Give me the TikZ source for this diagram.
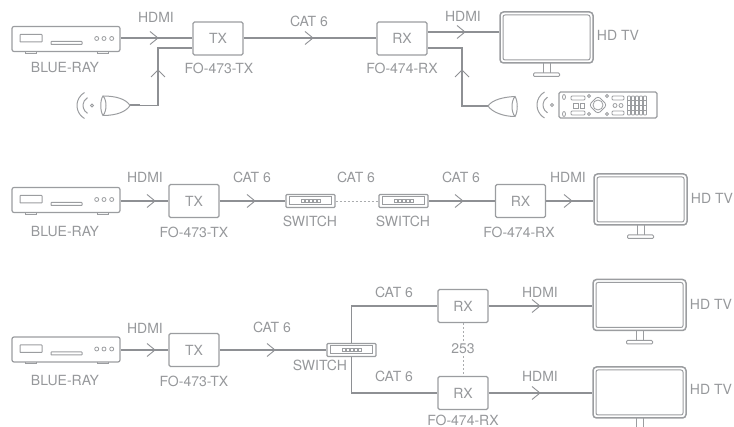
\documentclass[tikz,border=0pt]{standalone}
\usepackage{fontspec}
\setmainfont{TeX Gyre Heros}
\usetikzlibrary{positioning,calc}
\definecolor{wiregray}{HTML}{8E9094}
\definecolor{boxgray}{HTML}{9B9DA0}
\definecolor{txtgray}{HTML}{96989B}
\tikzset{wire/.style={draw=wiregray,line width=2pt}}
\tikzset{thinwire/.style={draw=wiregray,line width=1.05pt}}
\tikzset{dotwire/.style={draw=boxgray!85,line width=0.8pt,dash pattern=on 2pt off 2pt}}
\tikzset{chev/.style={draw=wiregray,line width=0.9pt}}
\tikzset{txt/.style={text=txtgray,font=\fontsize{14}{15}\selectfont,inner sep=0pt}}
\tikzset{boxtxt/.style={draw=boxgray,line width=1.2pt,rounded corners=1.5pt,minimum width=50pt,minimum height=33pt,inner sep=0pt,text=txtgray,font=\fontsize{14}{15}\selectfont}}
\tikzset{player/.style={draw=boxgray,line width=1.2pt,rounded corners=2pt,minimum width=108pt,minimum height=25pt,inner sep=0pt}}
\tikzset{telly/.style={draw=boxgray,line width=1.5pt,rounded corners=3.5pt,minimum width=93pt,minimum height=51pt,inner sep=0pt}}
\tikzset{hub/.style={draw=boxgray,line width=1.4pt,rounded corners=1pt,minimum width=49pt,minimum height=13pt,inner sep=0pt}}
\tikzset{part/.style={draw=boxgray,line width=1pt}}
\tikzset{fine/.style={draw=boxgray,line width=0.8pt}}
% chevrons, tip at the given coordinate
\def\chevr#1{\draw[chev] ($(#1)+(-8,-6.5)$) -- (#1) -- ($(#1)+(-8,6.5)$);}
\def\chevu#1{\draw[chev] ($(#1)+(-7,7)$) -- (#1) -- ($(#1)+(7,7)$);}
% inside of the devices
\def\playerparts#1{
  \begin{scope}[shift={(#1.center)}]
    \draw[part,rounded corners=0.5pt] (-46,-4.5) rectangle (-24,3);
    \draw[part,rounded corners=0.5pt] (-15,2.5) rectangle (16,5.5);
    \draw[fine] (30.7,-0.5) circle (2) (38,-0.5) circle (2) (45.7,-0.5) circle (2);
    \draw[part] (-41,12.5) -- (-41,14.5) -- (-30,14.5) -- (-30,12.5);
    \draw[part] (31,12.5) -- (31,14.5) -- (42,14.5) -- (42,12.5);
  \end{scope}
}
\def\tellyparts#1{
  \begin{scope}[shift={(#1.center)}]
    \draw[part,rounded corners=2pt] (-43.5,-22.5) rectangle (43.5,22.5);
    \draw[part] (-3.5,25.5) -- (-3.5,35.5) (3.5,25.5) -- (3.5,35.5);
    \draw[part,rounded corners=1pt] (-13,35.5) rectangle (13,39);
  \end{scope}
}
\def\hubparts#1{
  \begin{scope}[shift={(#1.center)}]
    \draw[part] (-21,-4) rectangle (21,4);
    \foreach \k in {-8,-4,0,4,8}
      \draw[draw=boxgray,line width=0.6pt] (\k-1.3,-1.3) rectangle (\k+1.3,1.3);
  \end{scope}
}
% sender waves, the dot at the given coordinate
\def\irwaves#1{
  \begin{scope}[shift={(#1)}]
    \draw[part] (0,0) circle (1.5);
    \draw[part] (120:9) arc (120:240:9);
    \draw[part] (120:15) arc (120:240:15);
  \end{scope}
}

\begin{document}
\begin{tikzpicture}[x=1pt,y=-1pt]
\useasboundingbox (0,0) rectangle (734,427);

% first row
\node[player] (pa) at (66,39) {};
\node[boxtxt] (txa) at (218,38.5) {TX};
\node[boxtxt] (rxa) at (402,38.5) {RX};
\node[telly] (tva) at (546.5,37.5) {};
\playerparts{pa}
\tellyparts{tva}

\node[txt] (pala) at (65,68) {BLUE-RAY};
\node[txt] (txla) at (219,68) {FO-473-TX};
\node[txt] (rxla) at (402,68) {FO-474-RX};
\node[txt] (hdma) at (156,17) {HDMI};
\node[txt] (cata) at (309,21) {CAT 6};
\node[txt] (hdmb) at (463,16) {HDMI};
\node[txt] (tvla) at (618,35) {HD TV};

\draw[wire] (pa.east |- 0,38) -- (txa.west |- 0,38);
\draw[wire] (txa.east |- 0,38) -- (rxa.west |- 0,38);
\draw[wire] (rxa.east |- 0,32) -- (tva.west |- 0,32);
\coordinate (ca) at (158,38);
\coordinate (cb) at (313,38);
\coordinate (cc) at (465,32);
\chevr{ca} \chevr{cb} \chevr{cc}

% left sender
\coordinate (bla) at (130,105.5);
\coordinate (blb) at (140,105.5);
\coordinate (cornl) at (158,105.5);
\coordinate (cornm) at (158,48);
\draw[thinwire] (blb) -- (cornl) -- (cornm) -- (txa.west |- cornm);
\draw[wire] (bla) -- (blb);
\draw[part] (bla) .. controls (126,99) and (116,96) .. (103,96) .. controls (100,100) and (100,111) .. (103,115.5) .. controls (116,115.5) and (126,112) .. (bla);
\draw[part] (103,96) .. controls (107,100) and (107,111) .. (103,115.5);
\coordinate (cd) at (158,70);
\chevu{cd}
\coordinate (wva) at (92,105.5);
\irwaves{wva}

% right sender and remote
\coordinate (bra) at (488,106);
\coordinate (brb) at (480,106);
\coordinate (cornr) at (462,106);
\coordinate (corns) at (462,48);
\draw[thinwire] (brb) -- (cornr) -- (corns) -- (rxa.east |- corns);
\draw[wire] (bra) -- (brb);
\draw[part] (bra) .. controls (492,100) and (503,97) .. (515,96.5) .. controls (518,101) and (518,112) .. (515,116.5) .. controls (503,116.5) and (492,112) .. (bra);
\draw[part] (515,96.5) .. controls (511,101) and (511,112) .. (515,116.5);
\coordinate (ce) at (462,70);
\chevu{ce}
\coordinate (wvb) at (552,105);
\irwaves{wvb}

\node[draw=boxgray,line width=1.2pt,rounded corners=1.5pt,minimum width=98pt,minimum height=26pt,inner sep=0pt] (rem) at (608,105) {};
\begin{scope}[shift={(rem.center)}]
  \draw[fine] (-44,-8) ellipse (1.5 and 2.5) (-44,9) ellipse (1.5 and 2.5);
  \draw[fine,rounded corners=1pt] (-37,-9) rectangle (-23,-5) (-37,6) rectangle (-23,10);
  \draw[fine] (-35,-2) rectangle (-30,3) (-28,-2) rectangle (-24,3);
  \draw[fine] (-10,0) circle (5);
  \draw[fine,rounded corners=3pt] (-19,0) -- (-10,-9) -- (-1,0) -- (-10,9) -- cycle;
  \draw[fine] (-19,-9) circle (1.5) (-1,-9) circle (1.5) (-19,9) circle (1.5) (-1,9) circle (1.5);
  \draw[fine,rounded corners=1pt] (4,-9) rectangle (16,-5) (4,6) rectangle (16,10);
  \draw[fine] (7,0.5) circle (2) (13,0.5) circle (2);
  \foreach \k in {21,25,29,33,37}
    \draw[fine,rounded corners=0.8pt] (\k-1.5,-9) rectangle (\k+1.5,10);
  \foreach \k in {-4.5,0,5}
    \draw[draw=boxgray,line width=0.6pt] (19.5,\k) -- (38.5,\k);
\end{scope}

% second row
\node[player] (pb) at (66,200) {};
\node[boxtxt] (txb) at (194,201) {TX};
\node[hub] (sa) at (310.5,201) {};
\node[hub] (sb) at (403.5,201) {};
\node[boxtxt] (rxb) at (520.5,201) {RX};
\node[telly] (tvb) at (640.5,199.5) {};
\playerparts{pb}
\hubparts{sa}
\hubparts{sb}
\tellyparts{tvb}

\node[txt] (palb) at (65,232) {BLUE-RAY};
\node[txt] (txlb) at (194,232) {FO-473-TX};
\node[txt] (sla) at (310,221) {SWITCH};
\node[txt] (slb) at (403,221) {SWITCH};
\node[txt] (rxlb) at (519,232) {FO-474-RX};
\node[txt] (hdmc) at (145,177) {HDMI};
\node[txt] (catb) at (252,177) {CAT 6};
\node[txt] (catc) at (356,177) {CAT 6};
\node[txt] (catd) at (461,177) {CAT 6};
\node[txt] (hdmd) at (568,177) {HDMI};
\node[txt] (tvlb) at (712,198) {HD TV};

\draw[wire] (pb.east |- txb.west) -- (txb.west);
\draw[wire] (txb.east) -- (sa.west);
\draw[dotwire] (sa.east) -- (sb.west);
\draw[wire] (sb.east) -- (rxb.west);
\draw[wire] (rxb.east) -- (tvb.west |- rxb.east);
\coordinate (cf) at (155,201);
\coordinate (cg) at (255,201);
\coordinate (ch) at (463,201);
\coordinate (ci) at (572,201);
\chevr{cf} \chevr{cg} \chevr{ch} \chevr{ci}

% third row
\node[player] (pc) at (66,349.5) {};
\node[boxtxt] (txc) at (194,350) {TX};
\node[hub] (sc) at (351.5,350) {};
\node[boxtxt] (rxc) at (463,306) {RX};
\node[boxtxt] (rxd) at (463,393) {RX};
\node[telly] (tvc) at (639.5,305) {};
\node[telly] (tvd) at (639.5,392.5) {};
\playerparts{pc}
\hubparts{sc}
\tellyparts{tvc}
% stand of the last set runs off the page
\draw[part] (636,418) -- (636,427) (643,418) -- (643,427);

\node[txt] (palc) at (65,381) {BLUE-RAY};
\node[txt] (txlc) at (194,381) {FO-473-TX};
\node[txt] (slc) at (320,365) {SWITCH};
\node[txt] (rxlc) at (463,420) {FO-474-RX};
\node[txt] (hdme) at (145,328) {HDMI};
\node[txt] (cate) at (272,327) {CAT 6};
\node[txt] (catf) at (394,292) {CAT 6};
\node[txt] (catg) at (394,376) {CAT 6};
\node[txt] (hdmf) at (540,292) {HDMI};
\node[txt] (hdmg) at (540,376) {HDMI};
\node[txt] (tvlc) at (711,304) {HD TV};
\node[txt] (tvld) at (711,389) {HD TV};
\node[txt] (cnt) at (463,349) {253};

\draw[wire] (pc.east |- txc.west) -- (txc.west);
\draw[wire] (txc.east) -- (sc.west);
\draw[thinwire] (sc.north) -- (sc.north |- rxc.west) -- (rxc.west);
\draw[thinwire] (sc.south) -- (sc.south |- rxd.west) -- (rxd.west);
\draw[wire] (rxc.east) -- (tvc.west |- rxc.east);
\draw[wire] (rxd.east) -- (tvd.west |- rxd.east);
\draw[dotwire] (rxc.south) -- ($(cnt.north)+(0,-2)$);
\draw[dotwire] ($(cnt.south)+(0,2)$) -- (rxd.north);
\coordinate (cj) at (155,350);
\coordinate (ck) at (275,350);
\coordinate (cl) at (540,306);
\coordinate (cm) at (540,393);
\chevr{cj} \chevr{ck} \chevr{cl} \chevr{cm}

% inner edge of the last set
\draw[part,rounded corners=2pt] ($(tvd.center)+(-43.5,-22.5)$) rectangle ($(tvd.center)+(43.5,22.5)$);
\end{tikzpicture}
\end{document}
